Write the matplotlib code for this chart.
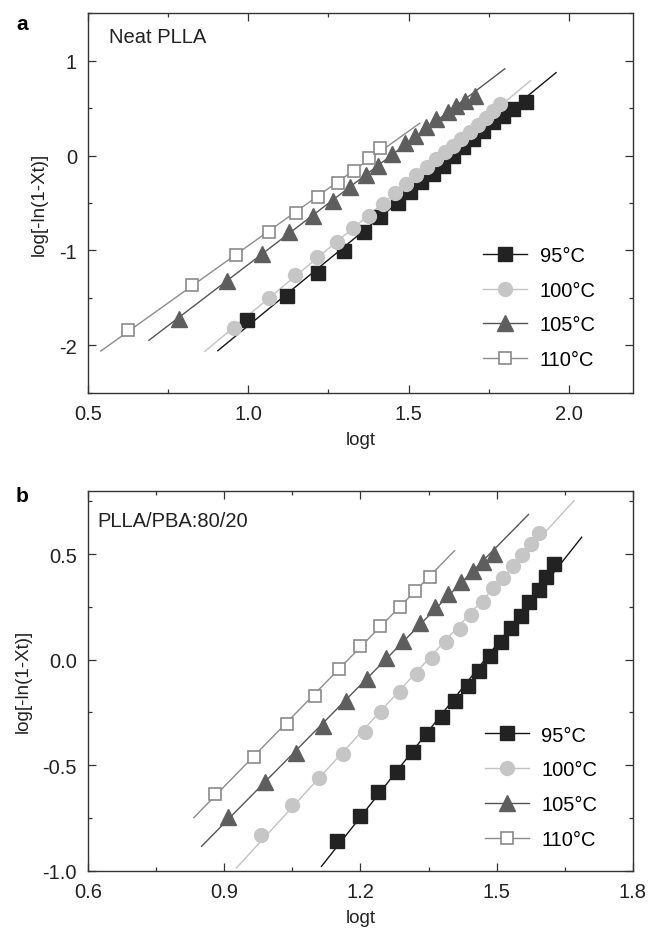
import matplotlib
matplotlib.use("Agg")
import matplotlib.pyplot as plt
import numpy as np
from matplotlib.ticker import MultipleLocator, FixedLocator, FixedFormatter

plt.rcParams['font.family'] = ['Liberation Sans', 'DejaVu Sans']
plt.rcParams['axes.unicode_minus'] = False

labels = ['95°C', '100°C', '105°C', '110°C']

# panel a : neat PLLA
a95_x = [0.997, 1.121, 1.217, 1.297, 1.362, 1.411, 1.468, 1.504, 1.54, 1.576, 1.607, 1.638,
         1.669, 1.70, 1.731, 1.762, 1.795, 1.827, 1.866]
a95_y = [-1.73, -1.48, -1.237, -1.002, -0.808, -0.65, -0.50, -0.387, -0.282, -0.195, -0.107, -0.002,
         0.086, 0.174, 0.261, 0.35, 0.42, 0.49, 0.56]
a100_x = [0.954, 1.065, 1.147, 1.215, 1.276, 1.328, 1.375, 1.421, 1.457, 1.493, 1.524, 1.556,
          1.587, 1.613, 1.638, 1.664, 1.69, 1.716, 1.742, 1.764, 1.786]
a100_y = [-1.82, -1.50, -1.258, -1.065, -0.907, -0.763, -0.634, -0.51, -0.395, -0.30, -0.205, -0.124,
          -0.037, 0.034, 0.103, 0.174, 0.244, 0.321, 0.392, 0.472, 0.542]
a105_x = [0.783, 0.933, 1.042, 1.127, 1.202, 1.264, 1.318, 1.366, 1.406, 1.447, 1.488, 1.519,
          1.555, 1.587, 1.623, 1.649, 1.675, 1.706]
a105_y = [-1.72, -1.318, -1.037, -0.808, -0.634, -0.476, -0.335, -0.205, -0.107, 0.016, 0.132, 0.21,
          0.297, 0.384, 0.455, 0.518, 0.577, 0.63]
a110_x = [0.625, 0.825, 0.961, 1.065, 1.149, 1.217, 1.28, 1.329, 1.377, 1.411]
a110_y = [-1.84, -1.36, -1.05, -0.81, -0.605, -0.44, -0.29, -0.16, -0.03, 0.076]
a_fit = [(0.905, 1.96), (0.865, 1.88), (0.69, 1.80), (0.54, 1.535)]

# panel b : PLLA/PBA 80/20
b95_x = [1.148, 1.198, 1.238, 1.28, 1.315, 1.346, 1.38, 1.409, 1.436, 1.462, 1.485, 1.509,
         1.531, 1.553, 1.571, 1.592, 1.609, 1.626]
b95_y = [-0.858, -0.74, -0.629, -0.531, -0.439, -0.353, -0.274, -0.195, -0.124, -0.053, 0.015, 0.085,
         0.148, 0.208, 0.271, 0.331, 0.39, 0.453]
b100_x = [0.98, 1.049, 1.108, 1.161, 1.209, 1.245, 1.287, 1.324, 1.357, 1.388, 1.418, 1.443,
          1.469, 1.492, 1.514, 1.536, 1.555, 1.575, 1.593]
b100_y = [-0.831, -0.689, -0.562, -0.447, -0.342, -0.247, -0.152, -0.068, 0.006, 0.082, 0.145, 0.211,
          0.271, 0.338, 0.385, 0.445, 0.495, 0.548, 0.60]
b105_x = [0.908, 0.989, 1.059, 1.117, 1.169, 1.214, 1.256, 1.293, 1.33, 1.363, 1.392, 1.421,
          1.447, 1.469, 1.495]
b105_y = [-0.747, -0.581, -0.443, -0.313, -0.195, -0.092, 0.006, 0.089, 0.173, 0.248, 0.311, 0.366,
          0.421, 0.464, 0.50]
b110_x = [0.879, 0.965, 1.038, 1.099, 1.152, 1.20, 1.242, 1.286, 1.319, 1.352]
b110_y = [-0.637, -0.463, -0.305, -0.171, -0.045, 0.063, 0.161, 0.248, 0.326, 0.39]
b_fit = [(1.114, 1.687), (0.927, 1.67), (0.85, 1.57), (0.833, 1.407)]

line_cols = ['#151515', '#c2c2c2', '#555555', '#8c8c8c']
styles = [dict(marker='s', ms=9.5, mfc='#222222', mec='#222222'),
          dict(marker='o', ms=10, mfc='#c6c6c6', mec='#c6c6c6'),
          dict(marker='^', ms=12, mfc='#5e5e5e', mec='#5e5e5e'),
          dict(marker='s', ms=9, mfc='white', mec='#8a8a8a', mew=1.2)]

fig = plt.figure(figsize=(6.5, 9.37), dpi=100)
ax1 = fig.add_axes([88/650, 1-394/937, 545/650, 380/937])
ax2 = fig.add_axes([88/650, 1-871.7/937, 545/650, 380/937])


def draw(ax, xs, ys, fits):
    handles = []
    for i in range(4):
        p = np.polyfit(xs[i], ys[i], 1)
        xx = np.array(fits[i])
        l, = ax.plot(xx, np.polyval(p, xx), color=line_cols[i], lw=1.0, zorder=2)
        m, = ax.plot(xs[i], ys[i], ls='none', zorder=3, **styles[i])
        handles.append((l, m))
    return handles


h1 = draw(ax1, [a95_x, a100_x, a105_x, a110_x], [a95_y, a100_y, a105_y, a110_y], a_fit)
h2 = draw(ax2, [b95_x, b100_x, b105_x, b110_x], [b95_y, b100_y, b105_y, b110_y], b_fit)

ax1.set_xlim(0.5, 2.2)
ax1.set_ylim(-2.5, 1.5)
ax1.xaxis.set_major_locator(FixedLocator([0.5, 1.0, 1.5, 2.0]))
ax1.xaxis.set_minor_locator(MultipleLocator(0.25))
ax1.yaxis.set_major_locator(FixedLocator([-2, -1, 0, 1]))
ax1.yaxis.set_major_formatter(FixedFormatter(['-2', '-1', '0', '1']))
ax1.yaxis.set_minor_locator(MultipleLocator(0.5))

ax2.set_xlim(0.6, 1.8)
ax2.set_ylim(-1.0, 0.8)
ax2.xaxis.set_major_locator(FixedLocator([0.6, 0.9, 1.2, 1.5, 1.8]))
ax2.xaxis.set_minor_locator(MultipleLocator(0.15))
ax2.yaxis.set_major_locator(FixedLocator([-1.0, -0.5, 0.0, 0.5]))
ax2.yaxis.set_minor_locator(MultipleLocator(0.25))

panels = [(ax1, h1, 'Neat PLLA', (0.038, 0.937), 'a', 24, (0.725, 0.225)),
          (ax2, h2, 'PLLA/PBA:80/20', (0.018, 0.921), 'b', 497, (0.728, 0.22))]
for ax, h, tx, tpos, lab, ly, lpos in panels:
    for s in ax.spines.values():
        s.set_linewidth(1.0)
        s.set_color('#333333')
    ax.tick_params(which='both', direction='in', top=True, right=True, colors='#333333',
                   labelcolor='#222222', labelsize=14.5)
    ax.tick_params(which='major', length=6, width=0.9)
    ax.tick_params(which='minor', length=3.2, width=0.9)
    ax.tick_params(axis='x', pad=8)
    ax.tick_params(axis='y', pad=8)
    ax.set_xlabel('logt', fontsize=13.5, color='#222222', labelpad=6)
    ax.set_ylabel('log[-ln(1-Xt)]', fontsize=13.5, color='#222222', labelpad=8)
    ax.text(tpos[0], tpos[1], tx, transform=ax.transAxes, fontsize=14.5, color='#222222',
            ha='left', va='center')
    fig.text(16/650, 1-ly/937, lab, fontsize=15, fontweight='bold', ha='left', va='center')
    ax.legend(h, labels, loc='center left', bbox_to_anchor=lpos, frameon=False,
              fontsize=14.5, handlelength=2.2, handletextpad=0.6, labelspacing=0.78,
              borderpad=0, borderaxespad=0)

fig.savefig('out.png', dpi=100)
